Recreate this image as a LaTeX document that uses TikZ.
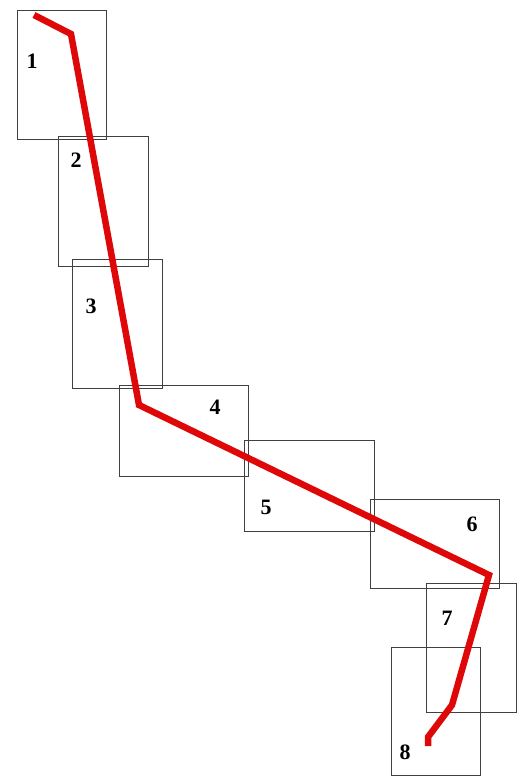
\documentclass[tikz,border=0pt]{standalone}
\usepackage{fontspec}
\setmainfont{Liberation Serif}
\usepackage{xcolor}
\definecolor{trackred}{RGB}{222,8,8}

\begin{document}
\begin{tikzpicture}[x=1pt,y=-1pt,
  cell/.style={draw=black!75,line width=1pt},
  num/.style={font=\fontsize{22}{22}\selectfont\bfseries,inner sep=0pt},
  track/.style={draw=trackred,line width=6.5pt,line join=miter}]
\useasboundingbox (0,0) rectangle (517,776);
\draw[cell] (17,11) rectangle (106,139);
\node[num] (n1) at (32,61) {1};
\draw[cell] (58,136) rectangle (148,266);
\node[num] (n2) at (76,160) {2};
\draw[cell] (72,259) rectangle (162,388);
\node[num] (n3) at (91,306) {3};
\draw[cell] (119,385) rectangle (248,476);
\node[num] (n4) at (215,407) {4};
\draw[cell] (244,440) rectangle (374,531);
\node[num] (n5) at (266,507) {5};
\draw[cell] (370,499) rectangle (499,588);
\node[num] (n6) at (472,524) {6};
\draw[cell] (426,583) rectangle (516,712);
\node[num] (n7) at (447,618) {7};
\draw[cell] (391,647) rectangle (480,775);
\node[num] (n8) at (405,752) {8};
% red track through the cells
\coordinate (t0) at (34,15);
\coordinate (t1) at (71,34);
\coordinate (t2) at (139,405);
\coordinate (t3) at (489,575);
\coordinate (t4) at (452,705);
\coordinate (t5) at (428,737);
\coordinate (t6) at (428,746);
\draw[track] (t0) -- (t1) -- (t2) -- (t3) -- (t4) -- (t5) -- (t6);
\end{tikzpicture}
\end{document}
